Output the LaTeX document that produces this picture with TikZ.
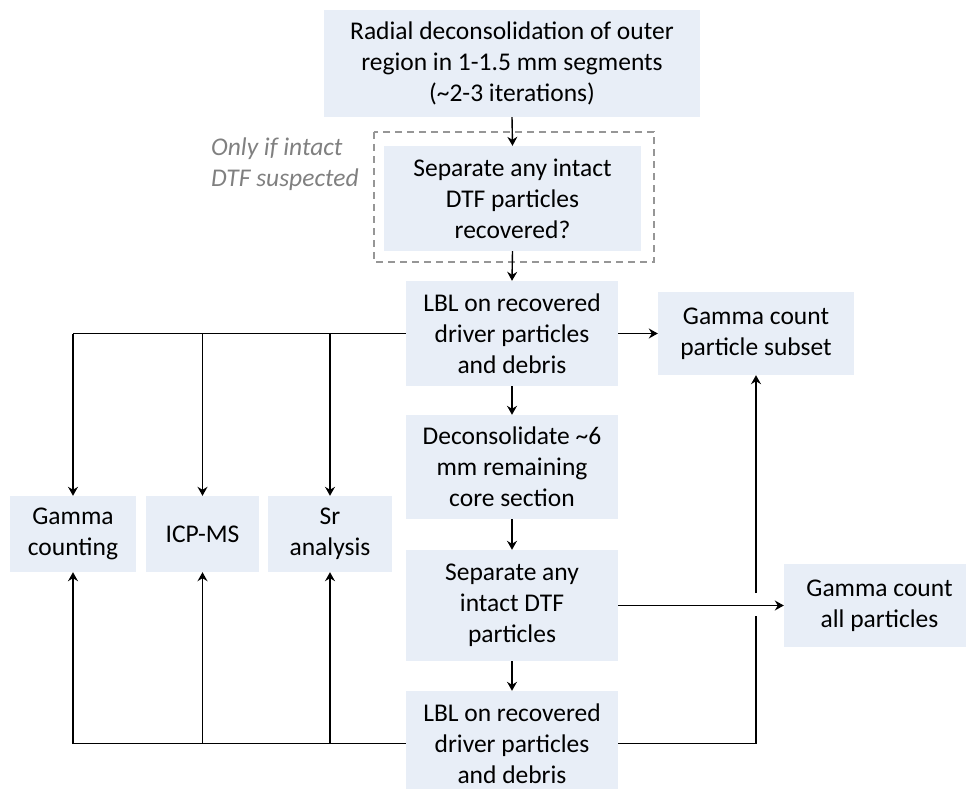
\documentclass[tikz,border=0pt]{standalone}
\usepackage{fontspec}
\setmainfont{Carlito}
\usetikzlibrary{arrows.meta}
\definecolor{boxfill}{RGB}{232,238,247}
\definecolor{notegray}{RGB}{128,128,128}
\definecolor{dashgray}{RGB}{150,150,150}
\begin{document}
\begin{tikzpicture}[x=1pt,y=-1pt,
  box/.style={fill=boxfill, inner sep=0pt, align=center, font=\fontsize{25.5}{31}\selectfont},
  conn/.style={line width=1.4pt, -{Stealth[length=9pt,width=10pt,inset=3pt]}},
  plain/.style={line width=1.4pt},
  dashbox/.style={draw=dashgray, line width=1.6pt, dash pattern=on 7pt off 5pt},
  note/.style={text=notegray, align=left, inner sep=0pt, font=\fontsize{25.5}{31}\selectfont\itshape}]
\useasboundingbox (0,0) rectangle (966,789);
\clip (0,0) rectangle (966,789);

\node[box, minimum width=376pt, minimum height=107pt] (top) at (512,63.5)
  {Radial deconsolidation of outer\\region in 1-1.5 mm segments\\(\textasciitilde 2-3 iterations)};
\draw[dashbox] (374,132) rectangle (654,262);
\node[box, minimum width=257pt, minimum height=105pt] (sep1) at (512.5,198.5)
  {Separate any intact\\DTF particles\\recovered?};
\node[note, anchor=west] (note) at (211,164.5) {Only if intact\\DTF suspected};

\node[box, minimum width=212pt, minimum height=105pt] (lbl1) at (512,333.5)
  {LBL on recovered\\driver particles\\and debris};
\node[box, minimum width=196pt, minimum height=83pt] (gcps) at (756,333.5)
  {Gamma count\\particle subset};
\node[box, minimum width=212pt, minimum height=104pt] (dec) at (512,467)
  {Deconsolidate \textasciitilde 6\\mm remaining\\core section};
\node[box, minimum width=212pt, minimum height=111pt] (sep2) at (512,605.5)
  {Separate any\\intact DTF\\particles};
\node[box, minimum width=212pt, minimum height=105pt] (lbl2) at (512,743.5)
  {LBL on recovered\\driver particles\\and debris};
\node[box, minimum width=191pt, minimum height=83pt] (gcap) at (879.5,605.5)
  {Gamma count\\all particles};

\node[box, minimum width=126pt, minimum height=76pt] (gc) at (73,534)
  {Gamma\\counting};
\node[box, minimum width=113pt, minimum height=76pt] (icp) at (202.5,534)
  {ICP-MS};
\node[box, minimum width=124pt, minimum height=76pt] (sr) at (330,534)
  {Sr\\analysis};

% main column
\draw[conn] (top.south) -- (sep1.north);
\draw[conn] (sep1.south) -- (lbl1.north);
\draw[conn] (lbl1.south) -- (dec.north);
\draw[conn] (dec.south) -- (sep2.north);
\draw[conn] (sep2.south) -- (lbl2.north);

% right side
\draw[conn] (lbl1.east) -- (gcps.west);
\draw[conn] (sep2.east) -- (gcap.west);
\coordinate (gapB) at (756,616);
\coordinate (gapT) at (756,593);
\draw[plain] (lbl2.east) -| (gapB);
\draw[conn] (gapT) -- (gcps.south);

% left side, from first LBL
\draw[plain] (lbl1.west) -- (gc.north |- lbl1.west);
\draw[conn] (gc.north |- lbl1.west) -- (gc.north);
\draw[conn] (icp.north |- lbl1.west) -- (icp.north);
\draw[conn] (sr.north |- lbl1.west) -- (sr.north);

% left side, from second LBL
\draw[plain] (lbl2.west) -- (gc.south |- lbl2.west);
\draw[conn] (gc.south |- lbl2.west) -- (gc.south);
\draw[conn] (icp.south |- lbl2.west) -- (icp.south);
\draw[conn] (sr.south |- lbl2.west) -- (sr.south);
\end{tikzpicture}
\end{document}
